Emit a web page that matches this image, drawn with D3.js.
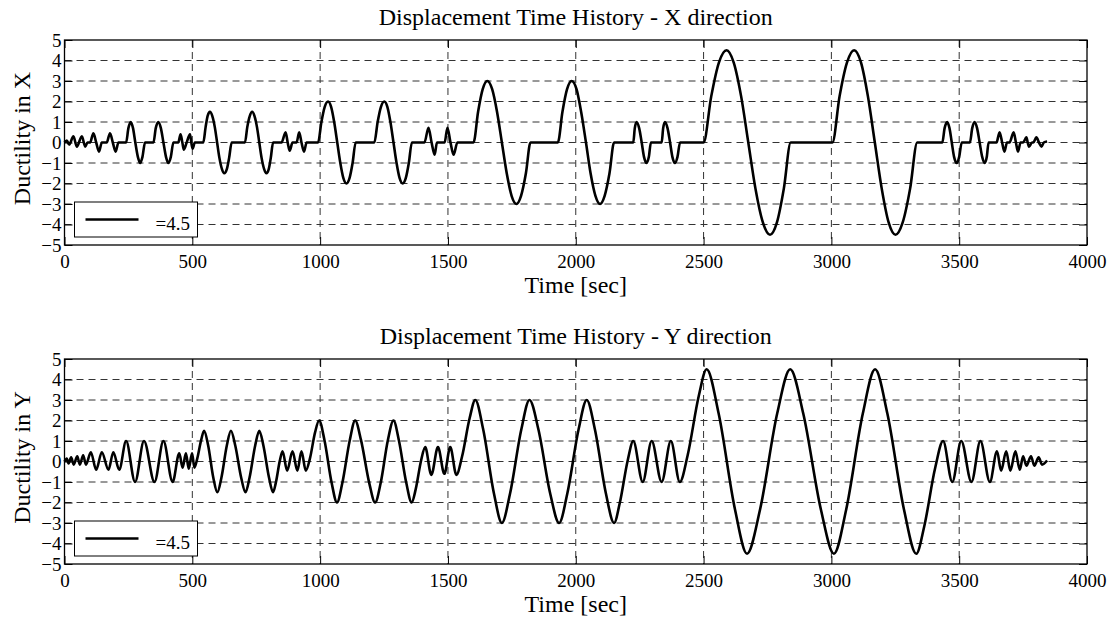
<!DOCTYPE html>
<html>
<head>
<meta charset="utf-8">
<script src="https://cdn.jsdelivr.net/npm/d3@7"></script>
<style>
    body { margin: 0; background: #fff; }
    svg { display: block; font-family: "Liberation Serif", "Times New Roman", serif; }
</style>
</head>
<body>
<svg id="chart" width="1110" height="623"></svg>
<script>
// tick values
const timeTicks = [0, 500, 1000, 1500, 2000, 2500, 3000, 3500, 4000];
const ductTicks = [-5, -4, -3, -2, -1, 0, 1, 2, 3, 4, 5];
const legendLabel = "=4.5";

// X direction (time in sec, ductility)
const xDirTime = [0, 9, 18, 35, 48, 68, 81, 90, 100, 113, 124, 135, 146, 165, 178, 189, 200, 211,
    241, 250, 259, 268, 277, 287, 296, 305, 315, 348, 357, 367, 377, 387, 397, 406, 416, 426,
    445, 454, 461, 467, 478, 491, 496, 501, 510,
    543, 552, 560, 569, 578, 588, 597, 606, 616, 625, 635, 644, 654,
    706, 715, 725, 734, 743, 753, 762, 771, 781, 790, 799, 807, 816,
    849, 865, 873, 881, 892, 908, 918, 927, 937, 947,
    992, 1005, 1018, 1031, 1043, 1055, 1067, 1079, 1091, 1103, 1115, 1127, 1139,
    1212, 1225, 1238, 1251, 1263, 1275, 1287, 1299, 1311, 1323, 1335, 1347, 1359,
    1408, 1424, 1436, 1448, 1457, 1487, 1498, 1510, 1522, 1537,
    1600, 1618, 1636, 1654, 1673, 1692, 1711, 1730, 1749, 1768, 1786, 1805, 1823,
    1930, 1948, 1966, 1984, 2003, 2021, 2040, 2058, 2077, 2095, 2113, 2132, 2150,
    2225, 2231, 2238, 2248, 2258, 2267, 2277, 2286, 2294,
    2336, 2342, 2349, 2359, 2369, 2378, 2388, 2398, 2408,
    2500, 2530, 2560, 2590, 2618, 2647, 2675, 2703, 2732, 2760, 2787, 2814, 2841,
    3004, 3032, 3061, 3089, 3116, 3143, 3170, 3197, 3224, 3251, 3279, 3308, 3336,
    3434, 3443, 3453, 3462, 3471, 3480, 3490, 3500, 3510,
    3542, 3551, 3560, 3570, 3580, 3590, 3600, 3608, 3615,
    3646, 3658, 3668, 3677, 3687, 3697, 3713, 3722, 3730, 3740, 3750, 3763, 3768, 3773, 3785,
    3790, 3802, 3812, 3822, 3831, 3844];
const xDirDuct = [0, 0.1, -0.1, 0.3, -0.2, 0.3, -0.2, 0, 0, 0.45, 0, -0.45, 0, 0, 0.45, 0, -0.45, 0,
    0, 0.7, 1, 0.7, 0, -0.7, -1, -0.7, 0, 0, 0.7, 1, 0.7, 0, -0.7, -1, -0.7, 0,
    0, 0.4, 0, -0.35, 0, 0.4, 0, -0.3, 0,
    0, 0.75, 1.3, 1.5, 1.3, 0.75, 0, -0.75, -1.3, -1.5, -1.3, -0.75, 0,
    0, 0.75, 1.3, 1.5, 1.3, 0.75, 0, -0.75, -1.3, -1.5, -1.3, -0.75, 0,
    0, 0.5, 0, -0.4, 0, 0, 0.5, 0, -0.45, 0,
    0, 1, 1.74, 2, 1.74, 1, 0, -1, -1.74, -2, -1.74, -1, 0,
    0, 1, 1.74, 2, 1.74, 1, 0, -1, -1.74, -2, -1.74, -1, 0,
    0, 0.72, 0, -0.6, 0, 0, 0.72, 0, -0.6, 0,
    0, 1.5, 2.6, 3, 2.6, 1.5, 0, -1.5, -2.6, -3, -2.6, -1.5, 0,
    0, 1.5, 2.6, 3, 2.6, 1.5, 0, -1.5, -2.6, -3, -2.6, -1.5, 0,
    0, 0.7, 1, 0.7, 0, -0.7, -1, -0.7, 0,
    0, 0.7, 1, 0.7, 0, -0.7, -1, -0.7, 0,
    0, 2.25, 3.9, 4.5, 3.9, 2.25, 0, -2.25, -3.9, -4.5, -3.9, -2.25, 0,
    0, 2.25, 3.9, 4.5, 3.9, 2.25, 0, -2.25, -3.9, -4.5, -3.9, -2.25, 0,
    0, 0.7, 1, 0.7, 0, -0.7, -1, -0.7, 0,
    0, 0.7, 1, 0.7, 0, -0.7, -1, -0.7, 0,
    0, 0.5, 0, -0.45, 0, 0, 0.5, 0, -0.45, 0, 0, 0.25, 0, -0.2, 0,
    0, 0.25, 0, -0.2, 0, 0.05];

// Y direction, peaks, troughs and points on the flanks
const yDirTime = [0, 9, 16, 26, 36, 50, 60, 73, 84, 103, 124, 146, 172, 191, 214,
    241, 276, 311, 352, 387, 423, 449, 462, 475, 486, 499, 508,
    519, 535, 546, 562, 582, 598, 614, 635, 651, 668, 691, 708, 724, 746, 762, 778, 800, 816, 827, 842, 853,
    871, 892, 911, 927, 944,
    960, 980, 996, 1017, 1045, 1066, 1087, 1116, 1137, 1160, 1192, 1215, 1237, 1265, 1287, 1308, 1337, 1358,
    1374, 1395, 1411,
    1435, 1461, 1486, 1509, 1533,
    1555, 1585, 1607, 1638, 1680, 1711, 1743, 1787, 1819, 1854, 1900, 1935, 1967, 2011, 2043, 2075, 2118, 2150,
    2172, 2203, 2225,
    2262, 2297, 2336, 2372, 2407,
    2438, 2481, 2512, 2559, 2623, 2670, 2721, 2788, 2839, 2890, 2959, 3010, 3058, 3123, 3171, 3219, 3284, 3332,
    3363, 3406, 3437,
    3473, 3508, 3548, 3583, 3620, 3648, 3664, 3684, 3700, 3720, 3737, 3750, 3763, 3781, 3794, 3811, 3824, 3844];
const yDirDuct = [0, 0.15, -0.1, 0.2, -0.15, 0.25, -0.15, 0.3, -0.15, 0.45, -0.4, 0.45, -0.4, 0.45, -0.4,
    1, -1, 1, -1, 1, -1, 0.4, -0.3, 0.4, -0.35, 0.4, -0.3,
    0.13, 1.07, 1.5, 0.78, -0.78, -1.5, -0.78, 0.78, 1.5, 0.78, -0.78, -1.5, -0.78, 0.78, 1.5, 0.78, -0.78, -1.5, -1.02, 0.02, 0.5,
    -0.45, 0.5, -0.45, 0.5, -0.45,
    0.14, 1.41, 2, 1.04, -1.04, -2, -1.04, 1.04, 2, 1.04, -1.04, -2, -1.04, 1.04, 2, 1.04, -1.04, -2,
    -1.35, 0.05, 0.7,
    -0.65, 0.7, -0.6, 0.7, -0.65,
    0.23, 2.12, 3, 1.56, -1.56, -3, -1.56, 1.56, 3, 1.56, -1.56, -3, -1.56, 1.56, 3, 1.56, -1.56, -3,
    -2.04, 0.04, 1,
    -1, 1, -1, 1, -1,
    0.32, 3.18, 4.5, 2.34, -2.34, -4.5, -2.34, 2.34, 4.5, 2.34, -2.34, -4.5, -2.34, 2.34, 4.5, 2.34, -2.34, -4.5,
    -3.18, -0.32, 1,
    -1, 1, -1, 1, -1, 0.5, -0.45, 0.5, -0.45, 0.5, -0.4, 0.25, -0.2, 0.25, -0.2, 0.2, -0.15, 0.05];

const panels = [
    { title: "Displacement Time History - X direction", label: "Ductility in X",
      time: xDirTime, duct: xDirDuct, top: 40, bottom: 245 },
    { title: "Displacement Time History - Y direction", label: "Ductility in Y",
      time: yDirTime, duct: yDirDuct, top: 359, bottom: 564 }
];

const svg = d3.select("#chart");
const x = d3.scaleLinear().domain([0, 4000]).range([64.5, 1087]);
const serif = '"Liberation Serif", "Times New Roman", serif';

panels.forEach(p => drawPanel(p));

function drawPanel(p) {
    const y = d3.scaleLinear().domain([-5, 5]).range([p.bottom, p.top]);
    const g = svg.append("g");

    // dashed grid
    g.append("g").selectAll("line")
        .data(timeTicks.slice(1, -1))
        .join("line")
        .attr("x1", d => x(d)).attr("x2", d => x(d))
        .attr("y1", p.top).attr("y2", p.bottom)
        .attr("stroke", "#333").attr("stroke-dasharray", "7,5");
    g.append("g").selectAll("line")
        .data(ductTicks.slice(1, -1))
        .join("line")
        .attr("x1", x.range()[0]).attr("x2", x.range()[1])
        .attr("y1", d => y(d)).attr("y2", d => y(d))
        .attr("stroke", "#333").attr("stroke-dasharray", "7,5");

    // axes, ticks pointing inside
    const fixAxis = a => {
        a.select(".domain").remove();
        a.attr("font-family", null).attr("font-size", null);
        a.selectAll("line").attr("stroke", "#000");
        a.selectAll("text")
            .attr("fill", "#000")
            .style("font-family", serif)
            .style("font-size", "19px");
    };
    g.append("g")
        .attr("transform", `translate(0,${p.bottom})`)
        .call(d3.axisBottom(x).tickValues(timeTicks).tickFormat(d3.format("d")).tickSize(-8).tickPadding(10))
        .call(fixAxis);
    g.append("g")
        .attr("transform", `translate(0,${p.top})`)
        .call(d3.axisTop(x).tickValues(timeTicks).tickSize(-8).tickFormat(""))
        .call(fixAxis);
    g.append("g")
        .attr("transform", `translate(${x.range()[0]},0)`)
        .call(d3.axisLeft(y).tickValues(ductTicks).tickFormat(d3.format("d")).tickSize(-8).tickPadding(3))
        .call(fixAxis);
    g.append("g")
        .attr("transform", `translate(${x.range()[1]},0)`)
        .call(d3.axisRight(y).tickValues(ductTicks).tickSize(-8).tickFormat(""))
        .call(fixAxis);

    g.append("rect")
        .attr("x", x.range()[0]).attr("y", p.top)
        .attr("width", x.range()[1] - x.range()[0]).attr("height", p.bottom - p.top)
        .attr("fill", "none").attr("stroke", "#000").attr("stroke-width", 1.3);

    // the time history
    const line = d3.line()
        .x(d => x(d[0]))
        .y(d => y(d[1]))
        .curve(d3.curveMonotoneX);
    g.append("path")
        .datum(d3.zip(p.time, p.duct))
        .attr("fill", "none")
        .attr("stroke", "#000")
        .attr("stroke-width", 2.6)
        .attr("stroke-linejoin", "round")
        .attr("d", line);

    // legend box
    const lx = x.range()[0] + 10, ly = p.bottom - 43;
    g.append("rect")
        .attr("x", lx).attr("y", ly).attr("width", 123).attr("height", 35)
        .attr("fill", "#fff").attr("stroke", "#000").attr("stroke-width", 1);
    g.append("line")
        .attr("x1", lx + 11).attr("x2", lx + 64)
        .attr("y1", ly + 17.5).attr("y2", ly + 17.5)
        .attr("stroke", "#000").attr("stroke-width", 2.6);
    g.append("text")
        .attr("x", lx + 81).attr("y", ly + 28)
        .style("font-size", "19px")
        .text(legendLabel);

    // titles
    const mid = (x.range()[0] + x.range()[1]) / 2;
    g.append("text")
        .attr("x", mid).attr("y", p.top - 15)
        .attr("text-anchor", "middle")
        .style("font-size", "24px")
        .text(p.title);
    g.append("text")
        .attr("x", mid).attr("y", p.bottom + 48)
        .attr("text-anchor", "middle")
        .style("font-size", "24px")
        .text("Time [sec]");
    g.append("text")
        .attr("transform", `translate(30,${(p.top + p.bottom) / 2 - 4}) rotate(-90)`)
        .attr("text-anchor", "middle")
        .style("font-size", "24px")
        .text(p.label);
}
</script>
</body>
</html>
